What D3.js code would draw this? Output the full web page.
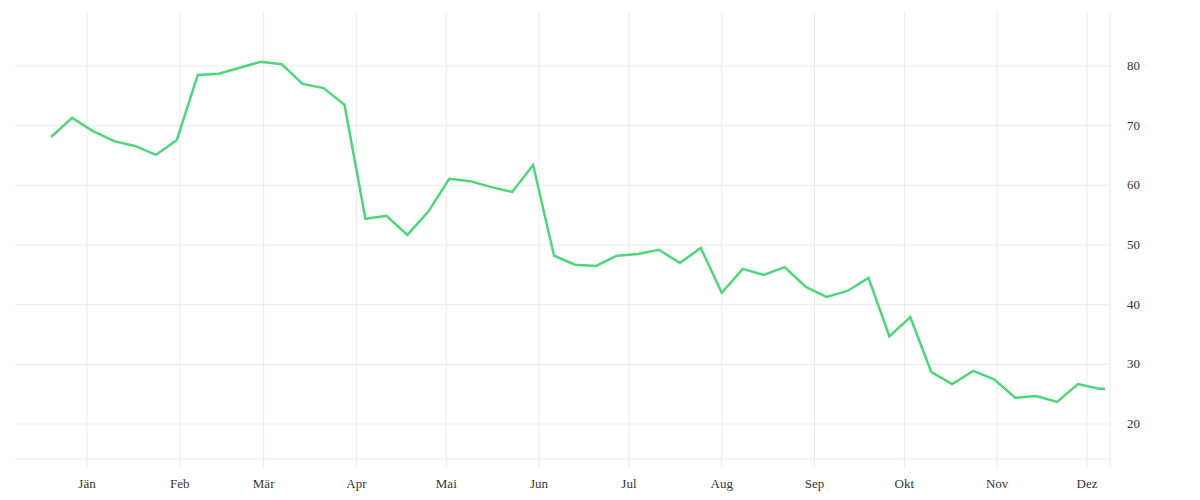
<!DOCTYPE html>
<html><head><meta charset="utf-8">
<script src="https://cdn.jsdelivr.net/npm/d3@7"></script>
<style>body{margin:0;background:#fff}text{font-family:"Liberation Serif",serif;fill:#333;font-size:13px}</style>
</head><body><svg id="chart" width="1200" height="500"></svg>
<script>
let startDate='2018-12-20'
let values=[68.1,71.3,69.1,67.4,66.6,65.1,67.6,78.5,78.7,79.7,80.7,80.3,77.0,76.3,73.5,54.4,54.9,51.7,55.6,61.1,60.7,59.7,58.9,63.4,48.2,46.7,46.5,48.2,48.5,49.2,47.0,49.5,42.0,46.0,45.0,46.3,43.0,41.3,42.3,44.5,34.7,37.9,28.7,26.7,28.9,27.5,24.4,24.7,23.7,26.7,25.9]
let lastDate='2019-12-07',lastValue=25.9
let monthLabels=['Jän','Feb','Mär','Apr','Mai','Jun','Jul','Aug','Sep','Okt','Nov','Dez']
let yTicks=[20,30,40,50,60,70,80]

let parse=d3.timeParse('%Y-%m-%d')
let t0=parse(startDate)
let data=values.map((v,i)=>({date:d3.timeDay.offset(t0,i*7),value:v}))
data.push({date:parse(lastDate),value:lastValue})

let svg=d3.select('#chart')
let x=d3.scaleTime().domain([new Date(2019,0,1),new Date(2019,11,1)]).range([87,1087])
let y=d3.scaleLinear().domain([20,80]).range([424,66])
let plotLeft=15,plotRight=1110,plotTop=12,plotBottom=459

let months=d3.range(12).map(m=>new Date(2019,m,1))
svg.append('g').selectAll('line').data(months).enter().append('line')
  .attr('x1',d=>x(d)).attr('x2',d=>x(d)).attr('y1',plotTop).attr('y2',468)
  .attr('stroke','#ebebeb')
svg.append('line').attr('x1',plotRight).attr('x2',plotRight).attr('y1',plotTop).attr('y2',468).attr('stroke','#ebebeb')
svg.append('g').selectAll('line').data(yTicks).enter().append('line')
  .attr('x1',plotLeft).attr('x2',plotRight).attr('y1',d=>y(d)).attr('y2',d=>y(d))
  .attr('stroke','#ebebeb')
svg.append('line').attr('x1',plotLeft).attr('x2',plotRight).attr('y1',plotBottom).attr('y2',plotBottom).attr('stroke','#ebebeb')

svg.append('g').selectAll('text').data(months).enter().append('text')
  .attr('x',d=>x(d)).attr('y',488).attr('text-anchor','middle')
  .text((d,i)=>monthLabels[i])
svg.append('g').selectAll('text').data(yTicks).enter().append('text')
  .attr('x',1127).attr('y',d=>y(d)+4).text(d=>d)

svg.append('path').datum(data)
  .attr('d',d3.line().x(d=>x(d.date)).y(d=>y(d.value)))
  .attr('fill','none').attr('stroke','#4fd67a').attr('stroke-width',2.5)
</script></body></html>
